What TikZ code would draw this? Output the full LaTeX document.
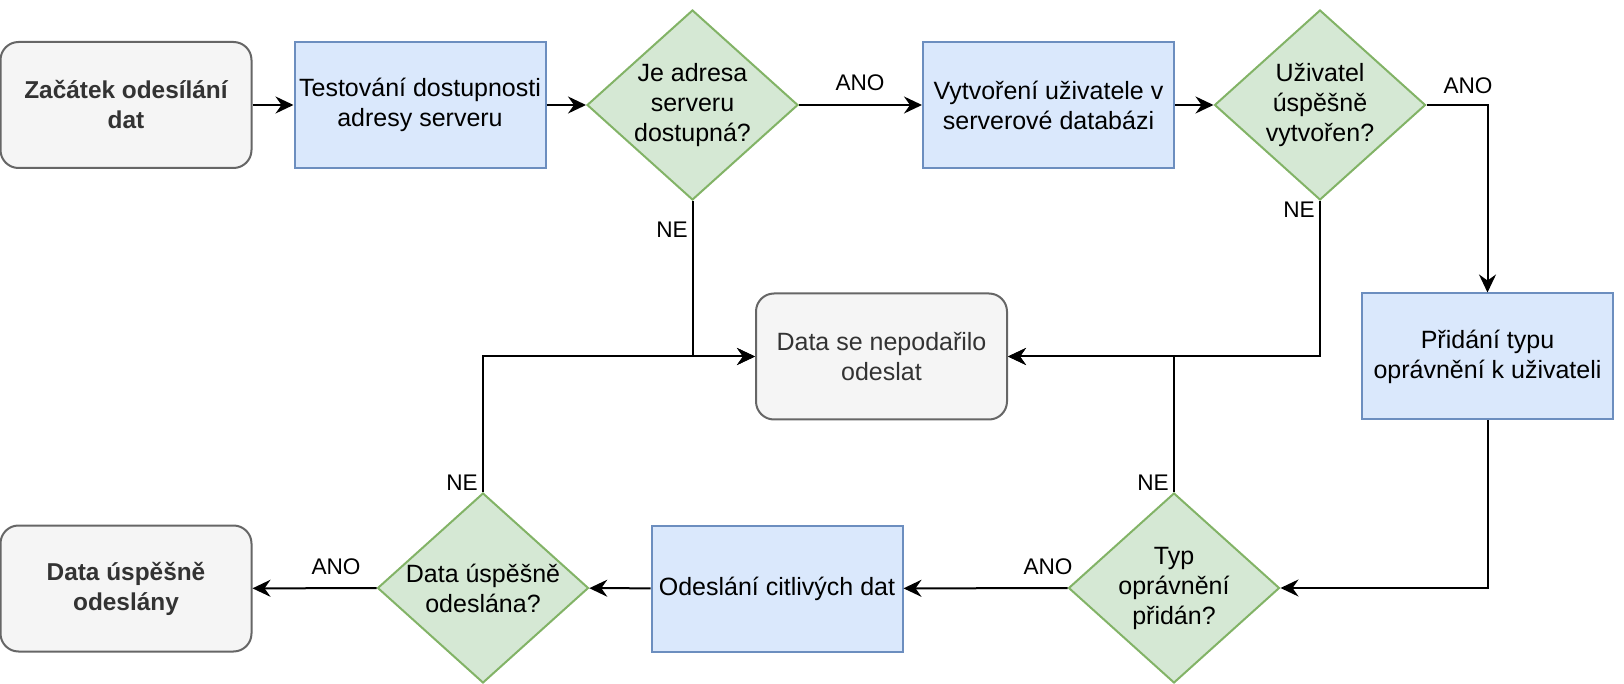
\documentclass[tikz,border=0pt]{standalone}
\usepackage{fontspec}
\setmainfont{Liberation Sans}
\usetikzlibrary{shapes.geometric,arrows.meta}

\definecolor{procfill}{HTML}{DAE8FC}
\definecolor{procline}{HTML}{6C8EBF}
\definecolor{decfill}{HTML}{D5E8D4}
\definecolor{decline}{HTML}{82B366}
\definecolor{termfill}{HTML}{F5F5F5}
\definecolor{termline}{HTML}{666666}
\definecolor{termtext}{HTML}{333333}

\tikzset{
  boxtext/.style={font=\fontsize{12.5}{15}\selectfont, align=center},
  boldtext/.style={font=\bfseries\fontsize{12.2}{15}\selectfont},
  process/.style={draw=procline, fill=procfill, line width=1pt,
    minimum width=125.5pt, minimum height=63pt, inner sep=2pt, boxtext},
  terminal/.style={draw=termline, fill=termfill, line width=1pt,
    rounded corners=9pt, text=termtext,
    minimum width=125.5pt, minimum height=63pt, inner sep=2pt, boxtext},
  decision/.style={diamond, draw=decline, fill=decfill, line width=1pt,
    minimum width=105.5pt, minimum height=95pt, inner sep=0pt},
  dtext/.style={boxtext, inner sep=0pt},
  flow/.style={draw=black, line width=1pt,
    -{Stealth[length=9pt, width=8.5pt, inset=3pt]}},
  lbl/.style={font=\fontsize{11.3}{13}\selectfont, inner sep=0pt},
}

\begin{document}
\begin{tikzpicture}[x=0.5pt, y=-0.5pt]
  \useasboundingbox (0,0) rectangle (1624,684);

  % top row
  \node[terminal, boldtext] (start) at (126,105) {Začátek odesílání\\dat};
  \node[process] (test) at (420,105) {Testování dostupnosti\\adresy serveru};
  \node[decision] (d1) at (692.5,105) {};
  \node[dtext] (d1t) at (d1) {Je adresa\\serveru\\dostupná?};
  \node[process] (create) at (1048.5,105) {Vytvoření uživatele v\\serverové databázi};
  \node[decision] (d2) at (1320,105) {};
  \node[dtext] (d2t) at (d2) {Uživatel\\úspěšně\\vytvořen?};

  % middle row
  \node[terminal] (fail) at (881.5,356.5) {Data se nepodařilo\\odeslat};
  \node[process] (perm) at (1487.5,356.5) {Přidání typu\\oprávnění k uživateli};

  % bottom row
  \node[decision] (d3) at (1174,588) {};
  \node[dtext] (d3t) at (d3) {Typ\\oprávnění\\přidán?};
  \node[process] (send) at (777,588.5) {Odeslání citlivých dat};
  \node[decision] (d4) at (483,588) {};
  \node[dtext] (d4t) at (d4) {Data úspěšně\\odeslána?};
  \node[terminal, boldtext] (finish) at (126,588.5) {Data úspěšně\\odeslány};

  % connectors
  \draw[flow] (start) -- (test);
  \draw[flow] (test) -- (d1);
  \draw[flow] (d1) -- (create);
  \draw[flow] (create) -- (d2);
  \draw[flow] (d2.east) -| (perm.north);
  \draw[flow] (d2.south) |- (fail.east);
  \draw[flow] (d1.south) |- (fail.west);
  \draw[flow] (perm.south) |- (d3.east);
  \draw[flow] (d3.north) |- (fail.east);
  \draw[flow] (d3) -- (send);
  \draw[flow] (send) -- (d4);
  \draw[flow] (d4) -- (finish);
  \draw[flow] (d4.north) |- (fail.west);

  % branch labels
  \node[lbl] (l1) at (860,83) {ANO};
  \node[lbl] (l2) at (1468,86) {ANO};
  \node[lbl] (l3) at (672,230) {NE};
  \node[lbl] (l4) at (1299,210) {NE};
  \node[lbl] (l5) at (1153,483) {NE};
  \node[lbl] (l6) at (1048,567) {ANO};
  \node[lbl] (l7) at (462,483) {NE};
  \node[lbl] (l8) at (336,567) {ANO};
\end{tikzpicture}
\end{document}
